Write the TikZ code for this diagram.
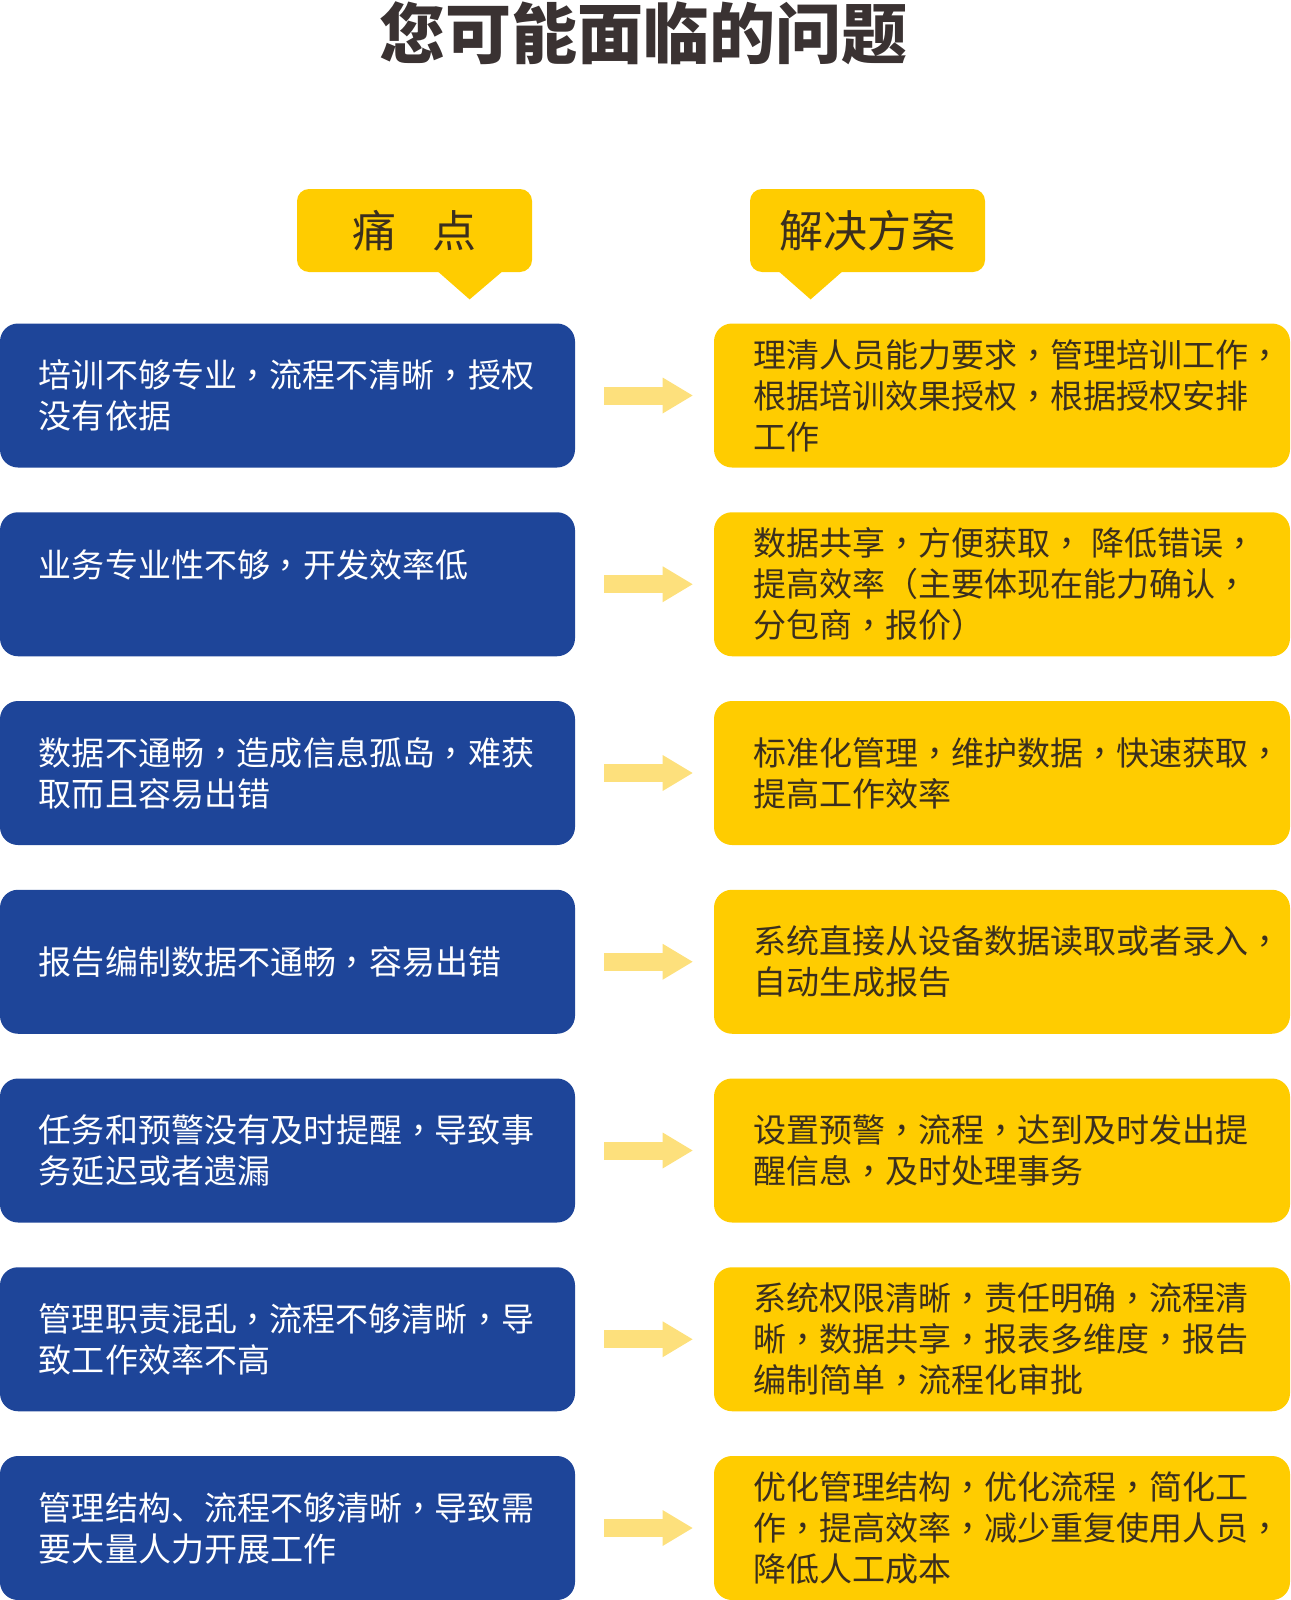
\documentclass[tikz,border=0pt]{standalone}
\usepackage{fontspec}
\usetikzlibrary{arrows.meta}
\newfontfamily\cjk{Noto Sans CJK SC}
\newfontfamily\cjktc{Noto Sans CJK TC}
\newcommand\zc{{\cjktc ，}}
\definecolor{pblue}{HTML}{1E4599}
\definecolor{syellow}{HTML}{FFCC00}
\definecolor{arrowy}{HTML}{FDE07C}
\definecolor{titlec}{HTML}{3A3232}
\definecolor{darktext}{HTML}{3B2F1E}
\tikzset{
  pbox/.style={fill=pblue, rounded corners=9pt, minimum width=287.5pt, minimum height=72pt, inner sep=0pt},
  sbox/.style={fill=syellow, rounded corners=9pt, minimum width=288pt, minimum height=72pt, inner sep=0pt},
  ptext/.style={anchor=west, align=left, text=white, font=\cjk\fontsize{16.5}{20.5}\selectfont, inner sep=0pt},
  stext/.style={anchor=west, align=left, text=darktext, font=\cjk\fontsize{16.5}{20.5}\selectfont, inner sep=0pt},
  flow/.style={draw=arrowy, line width=9pt, -{Triangle[length=15pt,width=18pt,line width=0pt]}},
  header/.style={fill=syellow, rounded corners=6pt, minimum width=117.5pt, minimum height=41.5pt, inner sep=0pt, text=darktext, font=\cjk\fontsize{22}{26}\selectfont},
  pointer/.style={fill=syellow},
  title/.style={text=titlec, font=\cjk\bfseries\fontsize{33}{38}\selectfont, inner sep=0pt}
}
\begin{document}
\begin{tikzpicture}[x=0.5pt,y=-0.5pt]
\useasboundingbox (0,0) rectangle (1290,1600);

\node[title] (title) at (643,33) {您可能面临的问题};

% headers
\node[header] (h1) at (414.5,230.5) {痛\hspace{0.8em}点};
\node[header] (h2) at (867.5,230.5) {解决方案};
\fill[pointer] ([xshift=70pt,yshift=1pt]h1.south west) -- ([xshift=103.5pt,yshift=1pt]h1.south west) -- ([xshift=86.5pt,yshift=-13.5pt]h1.south west) -- cycle;
\fill[pointer] ([xshift=14pt,yshift=1pt]h2.south west) -- ([xshift=47pt,yshift=1pt]h2.south west) -- ([xshift=30.5pt,yshift=-13.5pt]h2.south west) -- cycle;

% row 1
\node[pbox] (p1) at (287.5,395.5) {};
\node[sbox] (s1) at (1002,395.5) {};
\node[ptext] (pt1) at ([xshift=19.5pt]p1.west) {培训不够专业\zc 流程不清晰\zc 授权\\没有依据};
\node[stext] (st1) at ([xshift=19.5pt]s1.west) {理清人员能力要求\zc 管理培训工作\zc\\根据培训效果授权\zc 根据授权安排\\工作};
\draw[flow] ([xshift=14.5pt]p1.east) -- ([xshift=-10.5pt]s1.west);

% row 2
\node[pbox] (p2) at (287.5,584.25) {};
\node[sbox] (s2) at (1002,584.25) {};
\node[ptext] (pt2) at ([xshift=19.5pt]p2.west) {业务专业性不够\zc 开发效率低\\~};
\node[stext] (st2) at ([xshift=19.5pt]s2.west) {数据共享\zc 方便获取\zc\hspace{0.25em}降低错误\zc\\提高效率（主要体现在能力确认\zc\\分包商\zc 报价）};
\draw[flow] ([xshift=14.5pt]p2.east) -- ([xshift=-10.5pt]s2.west);

% row 3
\node[pbox] (p3) at (287.5,773) {};
\node[sbox] (s3) at (1002,773) {};
\node[ptext] (pt3) at ([xshift=19.5pt]p3.west) {数据不通畅\zc 造成信息孤岛\zc 难获\\取而且容易出错};
\node[stext] (st3) at ([xshift=19.5pt]s3.west) {标准化管理\zc 维护数据\zc 快速获取\zc\\提高工作效率};
\draw[flow] ([xshift=14.5pt]p3.east) -- ([xshift=-10.5pt]s3.west);

% row 4
\node[pbox] (p4) at (287.5,961.75) {};
\node[sbox] (s4) at (1002,961.75) {};
\node[ptext] (pt4) at ([xshift=19.5pt]p4.west) {报告编制数据不通畅\zc 容易出错};
\node[stext] (st4) at ([xshift=19.5pt]s4.west) {系统直接从设备数据读取或者录入\zc\\自动生成报告};
\draw[flow] ([xshift=14.5pt]p4.east) -- ([xshift=-10.5pt]s4.west);

% row 5
\node[pbox] (p5) at (287.5,1150.5) {};
\node[sbox] (s5) at (1002,1150.5) {};
\node[ptext] (pt5) at ([xshift=19.5pt]p5.west) {任务和预警没有及时提醒\zc 导致事\\务延迟或者遗漏};
\node[stext] (st5) at ([xshift=19.5pt]s5.west) {设置预警\zc 流程\zc 达到及时发出提\\醒信息\zc 及时处理事务};
\draw[flow] ([xshift=14.5pt]p5.east) -- ([xshift=-10.5pt]s5.west);

% row 6
\node[pbox] (p6) at (287.5,1339.25) {};
\node[sbox] (s6) at (1002,1339.25) {};
\node[ptext] (pt6) at ([xshift=19.5pt]p6.west) {管理职责混乱\zc 流程不够清晰\zc 导\\致工作效率不高};
\node[stext] (st6) at ([xshift=19.5pt]s6.west) {系统权限清晰\zc 责任明确\zc 流程清\\晰\zc 数据共享\zc 报表多维度\zc 报告\\编制简单\zc 流程化审批};
\draw[flow] ([xshift=14.5pt]p6.east) -- ([xshift=-10.5pt]s6.west);

% row 7
\node[pbox] (p7) at (287.5,1528) {};
\node[sbox] (s7) at (1002,1528) {};
\node[ptext] (pt7) at ([xshift=19.5pt]p7.west) {管理结构、流程不够清晰\zc 导致需\\要大量人力开展工作};
\node[stext] (st7) at ([xshift=19.5pt]s7.west) {优化管理结构\zc 优化流程\zc 简化工\\作\zc 提高效率\zc 减少重复使用人员\zc\\降低人工成本};
\draw[flow] ([xshift=14.5pt]p7.east) -- ([xshift=-10.5pt]s7.west);

\end{tikzpicture}
\end{document}
